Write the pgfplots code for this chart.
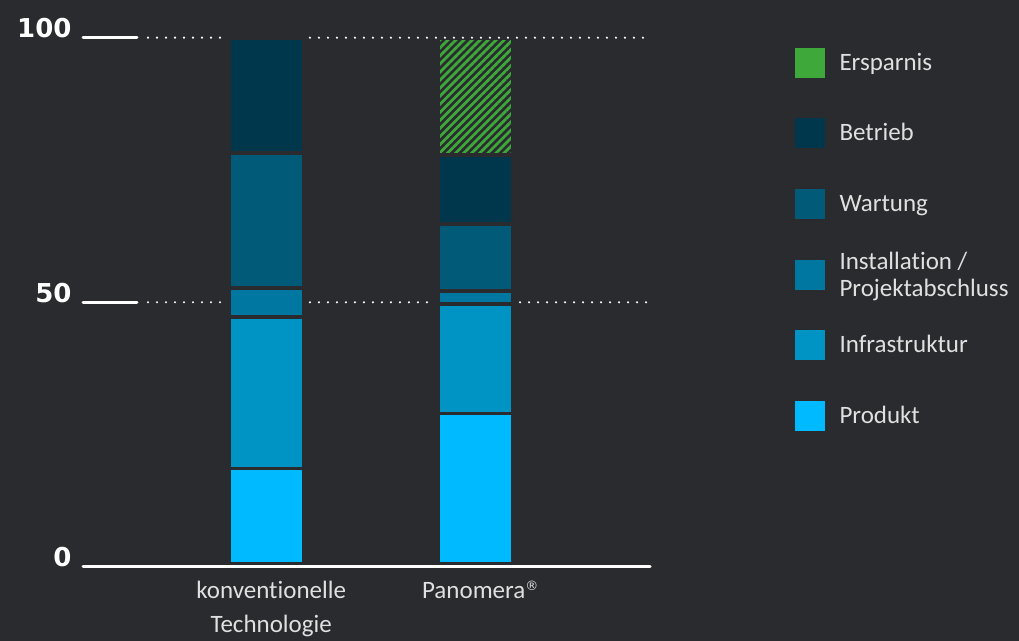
\documentclass[border=0pt]{standalone}
\usepackage{pgfplots}
\pgfplotsset{compat=1.18}
\usetikzlibrary{patterns.meta}
\usepackage{fontspec}
\setmainfont{Carlito}[Ligatures=NoCommon]
\newfontfamily\numfont{DejaVu Sans}

\definecolor{bg}{HTML}{2A2B2F}
\definecolor{txt}{HTML}{E0E0E0}
\definecolor{cProd}{HTML}{00BAFF}
\definecolor{cInfra}{HTML}{0094C4}
\definecolor{cInst}{HTML}{0077A0}
\definecolor{cWart}{HTML}{005A78}
\definecolor{cBetr}{HTML}{00374C}
\definecolor{cSave}{HTML}{3EA93A}

\tikzset{dotgrid/.style={white, line width=2.4bp, line cap=round, dash pattern=on 0bp off 9bp}}
\newcommand{\reg}{\raisebox{8bp}{\numfont\fontsize{13bp}{13bp}\selectfont ®}}

\begin{document}
\begin{tikzpicture}
\path[use as bounding box, fill=bg] (0,0) rectangle (1019bp,641bp);
\begin{axis}[
  at={(83bp,74.1bp)}, anchor=south west,
  scale only axis, width=567bp, height=529.2bp,
  xmin=-0.879, xmax=1.834, ymin=0, ymax=100,
  ybar stacked, bar width=74.5bp,
  axis x line=bottom, axis y line=left,
  x axis line style={-, draw=bg, double=white, double distance=3bp, line width=3.5bp, line cap=round},
  y axis line style={draw=none},
  xtick={0,1},
  xticklabels={{\strut konventionelle\\Technologie}, {\strut Panomera\reg}},
  xtick style={draw=none},
  xticklabel style={font=\fontsize{25bp}{34bp}\selectfont, text=txt, align=center,
    anchor=north, inner sep=0pt, yshift=-8bp, xshift=4.5bp},
  ytick={0,50,100}, yticklabels={0,50,100},
  tick align=inside, major tick length=54bp,
  ytick style={white, line width=3bp, line cap=round},
  yticklabel style={font=\numfont\bfseries\fontsize{26bp}{26bp}\selectfont, text=white,
    anchor=base east, inner sep=0pt, xshift=-11.3bp},
  axis on top, clip=false,
]
% dotted guide lines, broken around the bars
\draw[dotgrid] (-0.568,100) -- (-0.214,100);
\draw[dotgrid] (0.207,100) -- (1.825,100);
\draw[dotgrid] (-0.568,50) -- (-0.214,50);
\draw[dotgrid] (0.207,50) -- (0.791,50);
\draw[dotgrid] (1.212,50) -- (1.825,50);

\addplot[fill=cProd, draw=bg, line width=3.8bp] coordinates {(0,18.6) (1,29.0)};
\addplot[fill=cInfra, draw=bg, line width=3.8bp] coordinates {(0,28.6) (1,20.7)};
\addplot[fill=cInst, draw=bg, line width=3.8bp] coordinates {(0,5.5) (1,2.4)};
\addplot[fill=cWart, draw=bg, line width=3.8bp] coordinates {(0,25.5) (1,12.7)};
\addplot[fill=cBetr, draw=bg, line width=3.8bp] coordinates {(0,21.8) (1,13.1)};
\addplot[pattern={Lines[angle=45, distance=5.7bp, line width=2.8bp]}, pattern color=cSave,
  draw=bg, line width=3.8bp] coordinates {(0,0) (1,22.1)};
\end{axis}

% legend
\begin{scope}[every node/.style={anchor=base west, inner sep=0pt, text=txt,
    font=\fontsize{25bp}{27bp}\selectfont}]
\fill[cSave] (795bp,563bp) rectangle (825bp,593bp);
\node at (839.3bp,570bp) {Ersparnis};
\fill[cBetr] (795bp,493bp) rectangle (825bp,523bp);
\node at (839.3bp,500bp) {Betrieb};
\fill[cWart] (795bp,422bp) rectangle (825bp,452bp);
\node at (839.3bp,429bp) {Wartung};
\fill[cInst] (795bp,351bp) rectangle (825bp,381bp);
\node at (839.3bp,371bp) {Installation /};
\node at (839.3bp,344bp) {Projektabschluss};
\fill[cInfra] (795bp,281bp) rectangle (825bp,311bp);
\node at (839.3bp,288bp) {Infrastruktur};
\fill[cProd] (795bp,210bp) rectangle (825bp,240bp);
\node at (839.3bp,217bp) {Produkt};
\end{scope}
\end{tikzpicture}
\end{document}
